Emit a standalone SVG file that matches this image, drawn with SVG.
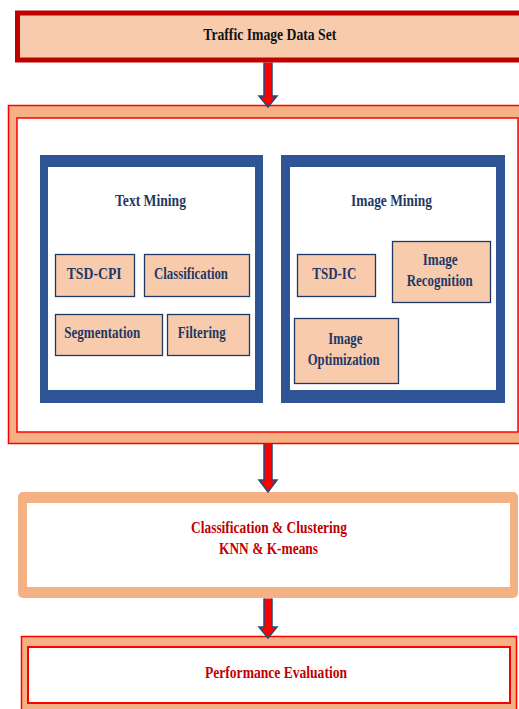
<svg xmlns="http://www.w3.org/2000/svg" width="519" height="709" viewBox="0 0 519 709">
<style>
text{font-family:"Liberation Serif","Times New Roman",serif;font-weight:bold;font-size:17.5px}
.blk{fill:#111}
.nav{fill:#1F3864}
.red{fill:#C00000}
.sub{fill:#F8CBAD;stroke:#1F3864;stroke-width:1.3}
.arrow{fill:#FF0000;stroke:#1F4E79;stroke-width:1.5;stroke-linejoin:miter}
</style>
<rect width="519" height="709" fill="#fff"/>
<g id="dataset">
<rect x="17.5" y="13" width="510" height="47" fill="#F8CBAD" stroke="#C00000" stroke-width="5"/>
<text class="blk" x="203.3" y="40" textLength="133" lengthAdjust="spacingAndGlyphs">Traffic Image Data Set</text>
</g>
<g id="mining">
<rect x="8.5" y="105.5" width="520" height="338" fill="#F4B183" stroke="#FF0000" stroke-width="1.5"/>
<rect x="17" y="118" width="501" height="314" fill="#fff" stroke="#FF0000" stroke-width="1.5"/>
</g>
<g id="text-mining">
<rect x="40" y="155" width="223" height="248" fill="#2F5597"/>
<rect x="48" y="167" width="207" height="223" fill="#fff"/>
<text class="nav" x="115" y="206" textLength="71" lengthAdjust="spacingAndGlyphs">Text Mining</text>
</g>
<g id="tsd-cpi">
<rect class="sub" x="55.5" y="254.5" width="79" height="42"/>
<text class="nav" x="66.7" y="279" textLength="55" lengthAdjust="spacingAndGlyphs">TSD-CPI</text>
</g>
<g id="classification">
<rect class="sub" x="144.5" y="254.5" width="105" height="42"/>
<text class="nav" x="154" y="279" textLength="74" lengthAdjust="spacingAndGlyphs">Classification</text>
</g>
<g id="segmentation">
<rect class="sub" x="55.5" y="314.5" width="107" height="41"/>
<text class="nav" x="64.3" y="338" textLength="76" lengthAdjust="spacingAndGlyphs">Segmentation</text>
</g>
<g id="filtering">
<rect class="sub" x="167.5" y="314.5" width="82" height="41"/>
<text class="nav" x="177.7" y="338" textLength="48" lengthAdjust="spacingAndGlyphs">Filtering</text>
</g>
<g id="image-mining">
<rect x="281" y="155" width="224" height="248" fill="#2F5597"/>
<rect x="290" y="167" width="206" height="223" fill="#fff"/>
<text class="nav" x="351" y="206" textLength="81" lengthAdjust="spacingAndGlyphs">Image Mining</text>
</g>
<g id="tsd-ic">
<rect class="sub" x="297.5" y="254.5" width="78" height="42"/>
<text class="nav" x="312.3" y="279" textLength="44" lengthAdjust="spacingAndGlyphs">TSD-IC</text>
</g>
<g id="image-recognition">
<rect class="sub" x="392.5" y="241.5" width="98" height="61"/>
<text class="nav" x="422.7" y="265" textLength="35" lengthAdjust="spacingAndGlyphs">Image</text>
<text class="nav" x="406.7" y="286" textLength="66" lengthAdjust="spacingAndGlyphs">Recognition</text>
</g>
<g id="image-optimization">
<rect class="sub" x="294.5" y="318.5" width="104" height="65"/>
<text class="nav" x="328.3" y="344" textLength="34" lengthAdjust="spacingAndGlyphs">Image</text>
<text class="nav" x="307.7" y="365" textLength="72" lengthAdjust="spacingAndGlyphs">Optimization</text>
</g>
<g id="classification-clustering">
<rect x="18" y="492" width="500" height="106" rx="5" fill="#F4B183"/>
<rect x="27" y="503" width="483" height="84" fill="#fff"/>
<text class="red" x="191" y="533" textLength="156" lengthAdjust="spacingAndGlyphs">Classification &amp; Clustering</text>
<text class="red" x="219" y="554" textLength="99" lengthAdjust="spacingAndGlyphs">KNN &amp; K-means</text>
</g>
<g id="performance">
<rect x="21.5" y="636.5" width="495" height="80" fill="#F4B183" stroke="#FF0000" stroke-width="1.5"/>
<rect x="28" y="647" width="482" height="56" fill="#fff" stroke="#FF0000" stroke-width="2"/>
<text class="red" x="205" y="678" textLength="142" lengthAdjust="spacingAndGlyphs">Performance Evaluation</text>
</g>
<g id="connectors">
<path class="arrow" d="M264,62.5 V96 H259 L268,107 L277,96 H272 V62.5"/>
<path class="arrow" d="M264,444 V480 H259 L268,492 L277,480 H272 V444"/>
<path class="arrow" d="M264,598.5 V627 H259 L268,638 L277,627 H272 V598.5"/>
</g>
</svg>
